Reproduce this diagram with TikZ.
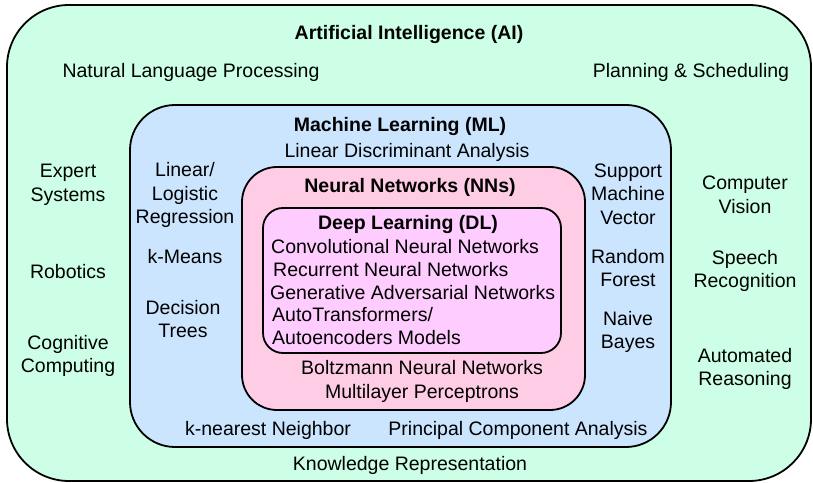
\documentclass[tikz,border=0pt]{standalone}
\usepackage{fontspec}
\setmainfont{Liberation Sans}
\definecolor{aifill}{HTML}{CCFFE5}
\definecolor{mlfill}{HTML}{CCE5FF}
\definecolor{nnfill}{HTML}{FFCCE5}
\definecolor{dlfill}{HTML}{FFCCFF}
\tikzset{
  field/.style={draw=black, line width=1.8bp},
  lbl/.style={inner sep=0pt, align=center, font=\fontsize{19.5bp}{23.5bp}\selectfont},
  ttl/.style={lbl, font=\fontsize{19.5bp}{23.5bp}\selectfont\bfseries},
  item/.style={inner sep=0pt, anchor=west, font=\fontsize{19.5bp}{23.5bp}\selectfont}
}
\begin{document}
\begin{tikzpicture}[x=1bp, y=-1bp]
  \useasboundingbox (0,0) rectangle (813,483);
  % nested fields
  \draw[field, fill=aifill, rounded corners=62bp] (7,5) rectangle (811,481);
  \draw[field, fill=mlfill, rounded corners=45bp] (130,105) rectangle (671,447);
  \draw[field, fill=nnfill, rounded corners=35bp] (242,167) rectangle (585,410);
  \draw[field, fill=dlfill, rounded corners=20bp] (263,208) rectangle (561,353);

  % Artificial Intelligence
  \node[ttl] (ai) at (409,35) {Artificial Intelligence (AI)};
  \node[lbl] (nlp) at (191,72) {Natural Language Processing};
  \node[lbl] (plan) at (691,72) {Planning \& Scheduling};
  \node[lbl] (expert) at (68,185) {Expert\\Systems};
  \node[lbl] (robot) at (68,272) {Robotics};
  \node[lbl] (cog) at (68,356) {Cognitive\\Computing};
  \node[lbl] (cv) at (745,195) {Computer\\Vision};
  \node[lbl] (speech) at (745,271) {Speech\\Recognition};
  \node[lbl] (reason) at (745,369) {Automated\\Reasoning};
  \node[lbl] (know) at (410,465) {Knowledge Representation};

  % Machine Learning
  \node[ttl] (ml) at (400,127) {Machine Learning (ML)};
  \node[lbl] (lda) at (407,152) {Linear Discriminant Analysis};
  \node[lbl] (linreg) at (185,195) {Linear/\\Logistic\\Regression};
  \node[lbl] (kmeans) at (185,257) {k-Means};
  \node[lbl] (dtree) at (183,319) {Decision\\Trees};
  \node[lbl] (svm) at (628,194) {Support\\Machine\\Vector};
  \node[lbl] (rf) at (628,268) {Random\\Forest};
  \node[lbl] (nb) at (628,332) {Naive\\Bayes};
  \node[lbl] (knn) at (268,430) {k-nearest Neighbor};
  \node[lbl] (pca) at (518,430) {Principal Component Analysis};

  % Neural Networks
  \node[ttl] (nn) at (410,187) {Neural Networks (NNs)};
  \node[lbl] (boltz) at (422,368) {Boltzmann Neural Networks};
  \node[lbl] (mlp) at (422,393) {Multilayer Perceptrons};

  % Deep Learning
  \node[ttl] (dl) at (408,225) {Deep Learning (DL)};
  \node[item] (cnn) at (271,247) {Convolutional Neural Networks};
  \node[item] (rnn) at (273,270) {Recurrent Neural Networks};
  \node[item] (gan) at (270,293) {Generative Adversarial Networks};
  \node[item] (auto1) at (272,315) {AutoTransformers/};
  \node[item] (auto2) at (272,338) {Autoencoders Models};
\end{tikzpicture}
\end{document}
